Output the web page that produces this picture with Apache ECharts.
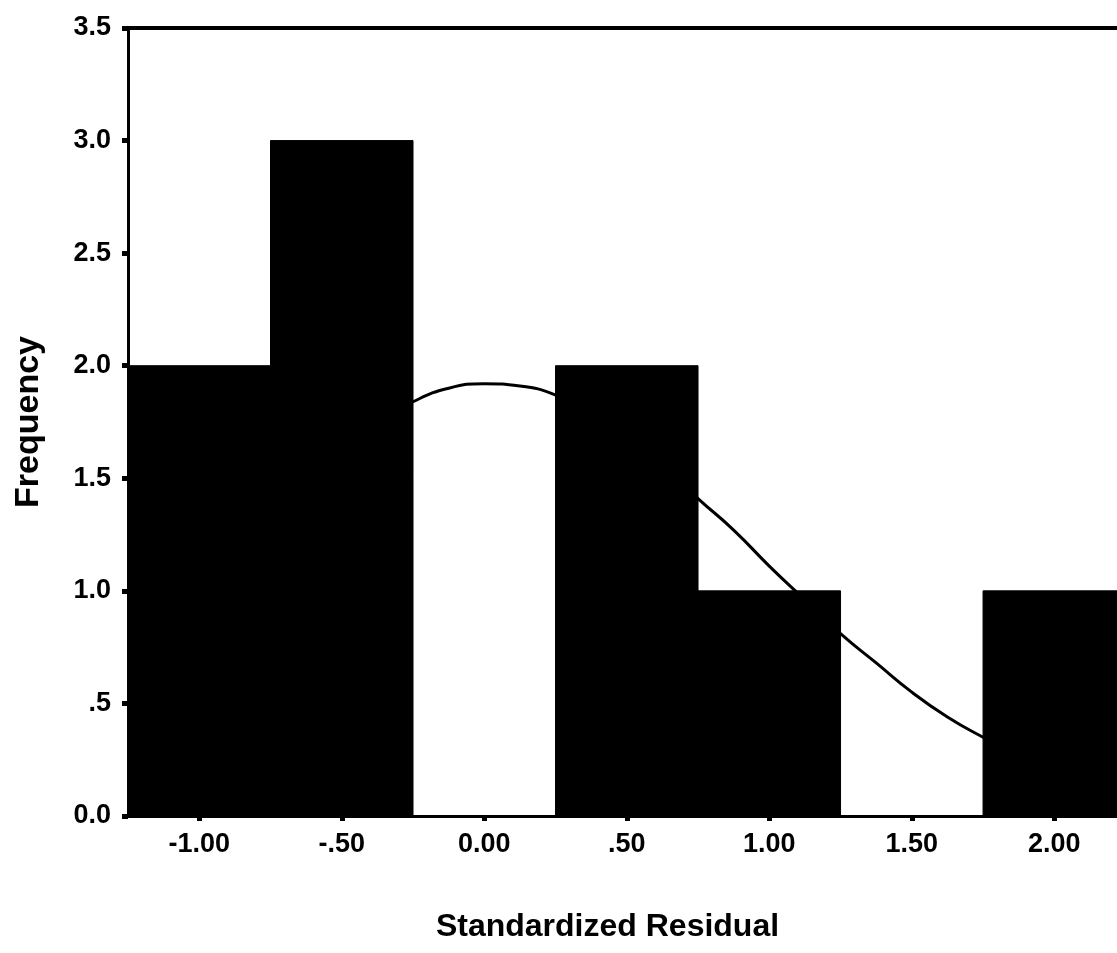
<!DOCTYPE html>
<html>
<head>
<meta charset="utf-8">
<title>Standardized Residual</title>
<script src="https://cdn.jsdelivr.net/npm/echarts@6.0.0/dist/echarts.min.js"></script>
<style>
    html, body { margin: 0; padding: 0; background: #fff; }
    #hist { width: 1117px; height: 953px; }
</style>
</head>
<body>
<div id="hist"></div>
<script>
// histogram bins (edges) and counts
var binStarts = [-1.25, -0.75, -0.25, 0.25, 0.75, 1.25, 1.75];
var binEnds = [-0.75, -0.25, 0.25, 0.75, 1.25, 1.75, 2.25];
var frequencies = [2, 3, 0, 2, 1, 0, 1];

// normal curve
var curveX = [-1.25, -1.125, -1.0, -0.875, -0.75, -0.625, -0.5, -0.375, -0.25, -0.125,
    0, 0.125, 0.25, 0.375, 0.5, 0.625, 0.75, 0.875, 1.0, 1.125,
    1.25, 1.375, 1.5, 1.625, 1.75, 1.875, 2.0, 2.125, 2.25];
var curveY = [0.75, 0.89, 1.05, 1.2, 1.36, 1.5, 1.64, 1.75, 1.84, 1.9,
    1.92, 1.91, 1.87, 1.79, 1.69, 1.56, 1.41, 1.27, 1.11, 0.96,
    0.81, 0.68, 0.55, 0.44, 0.35, 0.27, 0.2, 0.15, 0.11];

// tick labels
var xTickValues = [-1, -0.5, 0, 0.5, 1, 1.5, 2];
var xTickLabels = ['-1.00', '-.50', '0.00', '.50', '1.00', '1.50', '2.00'];
var yTickLabels = ['0.0', '.5', '1.0', '1.5', '2.0', '2.5', '3.0', '3.5'];

var myChart = echarts.init(document.getElementById('hist'));

var barData = [];
for (var i = 0; i < frequencies.length; i++) {
    barData.push([binStarts[i], binEnds[i], frequencies[i]]);
}
var curveData = [];
for (var j = 0; j < curveX.length; j++) {
    curveData.push([curveX[j], curveY[j]]);
}

var font = "'Liberation Sans', Arial, sans-serif";

var option = {
    animation: false,
    backgroundColor: '#fff',
    grid: {
        left: 128,
        top: 28,
        right: 0,
        bottom: 137
    },
    xAxis: [
        {
            type: 'value',
            min: -1.25,
            max: 2.22,   // the picture is cut off just past 2.00
            name: 'Standardized Residual',
            nameLocation: 'middle',
            nameGap: 95,
            nameTextStyle: { color: '#000', fontSize: 32, fontWeight: 'bold', fontFamily: font, padding: [0, 30, 0, 0] },
            splitLine: { show: false },
            axisLine: { lineStyle: { color: '#000', width: 3 } },
            axisTick: {
                customValues: xTickValues,
                length: 5,
                lineStyle: { color: '#000', width: 5 }
            },
            axisLabel: {
                customValues: xTickValues,
                margin: 15,
                color: '#000',
                fontSize: 27,
                fontWeight: 'bold',
                fontFamily: font,
                formatter: function (v) {
                    var k = xTickValues.indexOf(v);
                    return k >= 0 ? xTickLabels[k] : '';
                }
            }
        },
        {
            // only the top frame line
            type: 'value',
            position: 'top',
            min: -1.25,
            max: 2.22,
            axisLine: { onZero: false, lineStyle: { color: '#000', width: 4 } },
            axisTick: { show: false },
            axisLabel: { show: false },
            splitLine: { show: false }
        }
    ],
    yAxis: {
        type: 'value',
        min: 0,
        max: 3.5,
        interval: 0.5,
        name: 'Frequency',
        nameLocation: 'middle',
        nameRotate: 90,
        nameGap: 82,
        nameTextStyle: { color: '#000', fontSize: 34, fontWeight: 'bold', fontFamily: font },
        splitLine: { show: false },
        axisLine: { onZero: false, lineStyle: { color: '#000', width: 3 } },
        axisTick: { length: 6, lineStyle: { color: '#000', width: 5 } },
        axisLabel: {
            margin: 17,
            color: '#000',
            fontSize: 27,
            fontWeight: 'bold',
            fontFamily: font,
            formatter: function (v) {
                return yTickLabels[Math.round(v / 0.5)];
            }
        }
    },
    series: [
        {
            // normal curve drawn under the bars
            type: 'line',
            data: curveData,
            smooth: true,
            showSymbol: false,
            clip: true,
            z: 1,
            lineStyle: { color: '#000', width: 3 }
        },
        {
            type: 'custom',
            data: barData,
            z: 3,
            encode: { x: [0, 1], y: 2 },
            renderItem: function (params, api) {
                var p0 = api.coord([api.value(0), api.value(2)]);
                var p1 = api.coord([api.value(1), 0]);
                if (api.value(2) === 0) {
                    return null;
                }
                return {
                    type: 'rect',
                    shape: { x: p0[0], y: p0[1], width: p1[0] - p0[0], height: p1[1] - p0[1] },
                    // stroke closes the hairline seam between touching bars
                    style: { fill: '#000', stroke: '#000', lineWidth: 1 }
                };
            }
        }
    ]
};

myChart.setOption(option);
</script>
</body>
</html>
